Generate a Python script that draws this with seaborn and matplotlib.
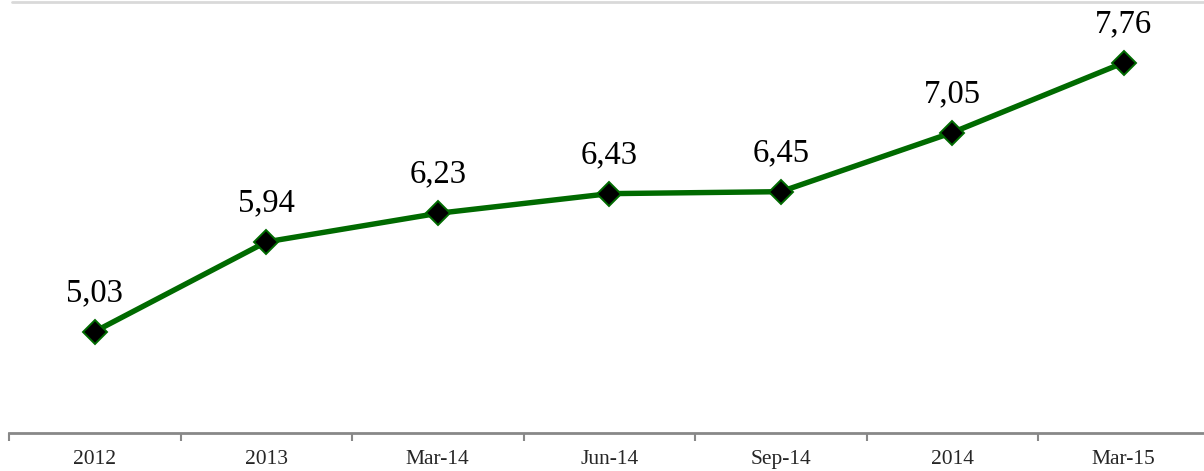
import pandas as pd
import seaborn as sns
import matplotlib.pyplot as plt
from matplotlib.ticker import FixedLocator, NullFormatter
from matplotlib.lines import Line2D

# --- Data ---
periods = ["2012", "2013", "Mar-14", "Jun-14", "Sep-14", "2014", "Mar-15"]
values = [5.03, 5.94, 6.23, 6.43, 6.45, 7.05, 7.76]

df = pd.DataFrame({"period": periods, "value": values})
df["pos"] = range(len(df))

sns.set_theme(style="white")
plt.rcParams["font.family"] = ["Liberation Serif", "DejaVu Serif"]

fig = plt.figure(figsize=(12.04, 4.71), dpi=100)
# axis spans from x=9px to past right edge, y=433px to top
ax = fig.add_axes([9 / 1204, (471 - 433) / 471, 1200.5 / 1204, 433.4 / 471])

green = "#006a00"
sns.lineplot(data=df, x="pos", y="value", ax=ax, color=green, linewidth=3.9,
             marker="D", markersize=12, markerfacecolor="black",
             markeredgecolor=green, markeredgewidth=1.4)

for _, row in df.iterrows():
    label = f"{row['value']:.2f}".replace(".", ",")
    ax.annotate(label, (row["pos"], row["value"]), xytext=(0, 17),
                textcoords="offset points", ha="center", va="bottom",
                fontsize=23.5, color="black")

ax.set_xlim(-0.5, len(df) - 0.5)
ax.set_ylim(4, 8.4)
ax.set_xlabel("")
ax.set_ylabel("")
ax.set_yticks([])

ax.set_xticks(df["pos"])
ax.set_xticklabels(periods, fontsize=15.5)
ax.tick_params(axis="x", which="major", length=0, pad=12)
ax.xaxis.set_minor_locator(FixedLocator([i - 0.5 for i in range(len(df) + 1)]))
ax.xaxis.set_minor_formatter(NullFormatter())
ax.tick_params(axis="x", which="minor", length=6, width=1.5, color="#888888",
               direction="out", bottom=True)

for side in ["top", "right", "left"]:
    ax.spines[side].set_visible(False)
ax.spines["bottom"].set_color("#888888")
ax.spines["bottom"].set_linewidth(2)

# light border line across the top of the chart area
fig.add_artist(Line2D([12 / 1204, 1.0], [1 - 2 / 471, 1 - 2 / 471],
                      transform=fig.transFigure, color="#d9d9d9", linewidth=2))

fig.savefig("out.png", dpi=100)
